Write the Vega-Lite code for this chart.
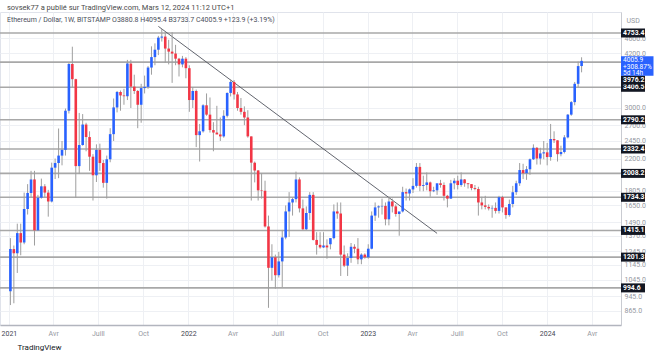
{
"$schema": "https://vega.github.io/schema/vega-lite/v6.json",
"width": 621, "height": 313,
"autosize": {"type": "none"},
"padding": {"left": 0, "top": 12, "right": 39, "bottom": 30},
"background": "#ffffff",
"title": {"text": "sovsek77 a publié sur TradingView.com, Mars 12, 2024 11:12 UTC+1", "subtitle": "Ethereum / Dollar, 1W, BITSTAMP  O3880.8  H4095.4  B3733.7  C4005.9  +123.9 (+3.19%)", "anchor": "start", "frame": "group", "dx": 7, "offset": -11, "fontSize": 7.5, "fontWeight": "normal", "color": "#4a4a4a", "subtitleFontSize": 7, "subtitleColor": "#4a4e5a", "subtitlePadding": 5, "font": "Roboto", "subtitleFont": "Roboto"},
"config": {"view": {"stroke": "#e0e3eb"}, "font": "Roboto"},
"datasets": {"levels": [{"p":4753.4},{"p":3976.2},{"p":3406.5},{"p":2790.2},{"p":2332.4},{"p":2008.2},{"p":1734.3},{"p":1415.1},{"p":1201.3},{"p":994.6}]},
"data": {"values": [
{"d":"2021-01-04","o":975,"h":1350,"l":895,"c":1262},
{"d":"2021-01-11","o":1262,"h":1290,"l":905,"c":1230},
{"d":"2021-01-18","o":1230,"h":1475,"l":1090,"c":1392},
{"d":"2021-01-25","o":1392,"h":1475,"l":1215,"c":1314},
{"d":"2021-02-01","o":1314,"h":1785,"l":1300,"c":1614},
{"d":"2021-02-08","o":1614,"h":1880,"l":1560,"c":1781},
{"d":"2021-02-15","o":1781,"h":2040,"l":1730,"c":1935},
{"d":"2021-02-22","o":1935,"h":2040,"l":1290,"c":1416},
{"d":"2021-03-01","o":1416,"h":1760,"l":1410,"c":1730},
{"d":"2021-03-08","o":1730,"h":1945,"l":1720,"c":1855},
{"d":"2021-03-15","o":1855,"h":1880,"l":1730,"c":1785},
{"d":"2021-03-22","o":1785,"h":1815,"l":1540,"c":1690},
{"d":"2021-03-29","o":1690,"h":2145,"l":1680,"c":2080},
{"d":"2021-04-05","o":2080,"h":2200,"l":1940,"c":2140},
{"d":"2021-04-12","o":2140,"h":2645,"l":1950,"c":2240},
{"d":"2021-04-19","o":2240,"h":2450,"l":2110,"c":2320},
{"d":"2021-04-26","o":2320,"h":2990,"l":2240,"c":2950},
{"d":"2021-05-03","o":2950,"h":3960,"l":2900,"c":3930},
{"d":"2021-05-10","o":3930,"h":4370,"l":3400,"c":3580},
{"d":"2021-05-17","o":3580,"h":3590,"l":1730,"c":2100},
{"d":"2021-05-24","o":2100,"h":2910,"l":2000,"c":2390},
{"d":"2021-05-31","o":2390,"h":2890,"l":2380,"c":2710},
{"d":"2021-06-07","o":2710,"h":2740,"l":2300,"c":2510},
{"d":"2021-06-14","o":2510,"h":2600,"l":2040,"c":2225},
{"d":"2021-06-21","o":2225,"h":2260,"l":1700,"c":1985},
{"d":"2021-06-28","o":1985,"h":2400,"l":1905,"c":2320},
{"d":"2021-07-05","o":2320,"h":2410,"l":2040,"c":2140},
{"d":"2021-07-12","o":2140,"h":2180,"l":1840,"c":1895},
{"d":"2021-07-19","o":1895,"h":2240,"l":1720,"c":2190},
{"d":"2021-07-26","o":2190,"h":2650,"l":2150,"c":2555},
{"d":"2021-08-02","o":2555,"h":3180,"l":2450,"c":3010},
{"d":"2021-08-09","o":3010,"h":3330,"l":2920,"c":3310},
{"d":"2021-08-16","o":3310,"h":3340,"l":2950,"c":3240},
{"d":"2021-08-23","o":3240,"h":3375,"l":3060,"c":3225},
{"d":"2021-08-30","o":3225,"h":4030,"l":3150,"c":3940},
{"d":"2021-09-06","o":3940,"h":4030,"l":3000,"c":3420},
{"d":"2021-09-13","o":3420,"h":3680,"l":3270,"c":3330},
{"d":"2021-09-20","o":3330,"h":3350,"l":2650,"c":3060},
{"d":"2021-09-27","o":3060,"h":3480,"l":2740,"c":3390},
{"d":"2021-10-04","o":3390,"h":3660,"l":3280,"c":3415},
{"d":"2021-10-11","o":3415,"h":3880,"l":3375,"c":3845},
{"d":"2021-10-18","o":3845,"h":4380,"l":3680,"c":4100},
{"d":"2021-10-25","o":4100,"h":4460,"l":3900,"c":4290},
{"d":"2021-11-01","o":4290,"h":4670,"l":4150,"c":4620},
{"d":"2021-11-08","o":4620,"h":4870,"l":4510,"c":4650},
{"d":"2021-11-15","o":4650,"h":4780,"l":3960,"c":4320},
{"d":"2021-11-22","o":4320,"h":4560,"l":3920,"c":4240},
{"d":"2021-11-29","o":4240,"h":4780,"l":3500,"c":4190},
{"d":"2021-12-06","o":4190,"h":4420,"l":3900,"c":4060},
{"d":"2021-12-13","o":4060,"h":4080,"l":3640,"c":3920},
{"d":"2021-12-20","o":3920,"h":4130,"l":3850,"c":4060},
{"d":"2021-12-27","o":4060,"h":4100,"l":3600,"c":3830},
{"d":"2022-01-03","o":3830,"h":3900,"l":2930,"c":3150},
{"d":"2022-01-10","o":3150,"h":3410,"l":3000,"c":3330},
{"d":"2022-01-17","o":3330,"h":3360,"l":2360,"c":2540},
{"d":"2022-01-24","o":2540,"h":2720,"l":2160,"c":2600},
{"d":"2022-01-31","o":2600,"h":3070,"l":2580,"c":3050},
{"d":"2022-02-07","o":3050,"h":3280,"l":2860,"c":2880},
{"d":"2022-02-14","o":2880,"h":3200,"l":2580,"c":2620},
{"d":"2022-02-21","o":2620,"h":2750,"l":2300,"c":2580},
{"d":"2022-02-28","o":2580,"h":3040,"l":2560,"c":2550},
{"d":"2022-03-07","o":2550,"h":2830,"l":2450,"c":2520},
{"d":"2022-03-14","o":2520,"h":2960,"l":2500,"c":2860},
{"d":"2022-03-21","o":2860,"h":3300,"l":2830,"c":3290},
{"d":"2022-03-28","o":3290,"h":3580,"l":3220,"c":3520},
{"d":"2022-04-04","o":3520,"h":3560,"l":3160,"c":3260},
{"d":"2022-04-11","o":3260,"h":3310,"l":2950,"c":3000},
{"d":"2022-04-18","o":3000,"h":3190,"l":2880,"c":2930},
{"d":"2022-04-25","o":2930,"h":3030,"l":2700,"c":2830},
{"d":"2022-05-02","o":2830,"h":2960,"l":2500,"c":2520},
{"d":"2022-05-09","o":2520,"h":2520,"l":1700,"c":2145},
{"d":"2022-05-16","o":2145,"h":2160,"l":1900,"c":2045},
{"d":"2022-05-23","o":2045,"h":2050,"l":1700,"c":1810},
{"d":"2022-05-30","o":1810,"h":2010,"l":1720,"c":1805},
{"d":"2022-06-06","o":1805,"h":1920,"l":1440,"c":1450},
{"d":"2022-06-13","o":1450,"h":1550,"l":880,"c":1125},
{"d":"2022-06-20","o":1125,"h":1300,"l":1040,"c":1200},
{"d":"2022-06-27","o":1200,"h":1220,"l":990,"c":1075},
{"d":"2022-07-04","o":1075,"h":1240,"l":1060,"c":1170},
{"d":"2022-07-11","o":1170,"h":1420,"l":1000,"c":1355},
{"d":"2022-07-18","o":1355,"h":1650,"l":1340,"c":1590},
{"d":"2022-07-25","o":1590,"h":1790,"l":1360,"c":1680},
{"d":"2022-08-01","o":1680,"h":1730,"l":1550,"c":1715},
{"d":"2022-08-08","o":1715,"h":2030,"l":1680,"c":1935},
{"d":"2022-08-15","o":1935,"h":1960,"l":1580,"c":1620},
{"d":"2022-08-22","o":1620,"h":1710,"l":1420,"c":1425},
{"d":"2022-08-29","o":1425,"h":1640,"l":1420,"c":1575},
{"d":"2022-09-05","o":1575,"h":1790,"l":1510,"c":1760},
{"d":"2022-09-12","o":1760,"h":1790,"l":1330,"c":1335},
{"d":"2022-09-19","o":1335,"h":1400,"l":1220,"c":1295},
{"d":"2022-09-26","o":1295,"h":1400,"l":1265,"c":1275},
{"d":"2022-10-03","o":1275,"h":1400,"l":1270,"c":1290},
{"d":"2022-10-10","o":1290,"h":1340,"l":1190,"c":1275},
{"d":"2022-10-17","o":1300,"h":1340,"l":1260,"c":1350},
{"d":"2022-10-24","o":1350,"h":1660,"l":1340,"c":1590},
{"d":"2022-10-31","o":1590,"h":1680,"l":1520,"c":1570},
{"d":"2022-11-07","o":1570,"h":1680,"l":1070,"c":1220},
{"d":"2022-11-14","o":1220,"h":1290,"l":1130,"c":1140},
{"d":"2022-11-21","o":1140,"h":1230,"l":1070,"c":1195},
{"d":"2022-11-28","o":1195,"h":1310,"l":1160,"c":1280},
{"d":"2022-12-05","o":1280,"h":1300,"l":1230,"c":1265},
{"d":"2022-12-12","o":1265,"h":1350,"l":1150,"c":1185},
{"d":"2022-12-19","o":1185,"h":1230,"l":1150,"c":1220},
{"d":"2022-12-26","o":1220,"h":1230,"l":1190,"c":1200},
{"d":"2023-01-02","o":1200,"h":1300,"l":1190,"c":1265},
{"d":"2023-01-09","o":1265,"h":1590,"l":1260,"c":1550},
{"d":"2023-01-16","o":1550,"h":1680,"l":1500,"c":1630},
{"d":"2023-01-23","o":1630,"h":1650,"l":1530,"c":1640},
{"d":"2023-01-30","o":1640,"h":1720,"l":1560,"c":1645},
{"d":"2023-02-06","o":1645,"h":1680,"l":1460,"c":1515},
{"d":"2023-02-13","o":1515,"h":1740,"l":1460,"c":1690},
{"d":"2023-02-20","o":1690,"h":1720,"l":1580,"c":1640},
{"d":"2023-02-27","o":1640,"h":1660,"l":1540,"c":1565},
{"d":"2023-03-06","o":1565,"h":1570,"l":1370,"c":1590},
{"d":"2023-03-13","o":1590,"h":1850,"l":1580,"c":1790},
{"d":"2023-03-20","o":1790,"h":1830,"l":1700,"c":1775},
{"d":"2023-03-27","o":1775,"h":1830,"l":1700,"c":1820},
{"d":"2023-04-03","o":1820,"h":1950,"l":1780,"c":1860},
{"d":"2023-04-10","o":1860,"h":2140,"l":1840,"c":2090},
{"d":"2023-04-17","o":2090,"h":2140,"l":1800,"c":1860},
{"d":"2023-04-24","o":1860,"h":1980,"l":1800,"c":1870},
{"d":"2023-05-01","o":1870,"h":2020,"l":1810,"c":1900},
{"d":"2023-05-08","o":1900,"h":1910,"l":1740,"c":1800},
{"d":"2023-05-15","o":1800,"h":1850,"l":1790,"c":1810},
{"d":"2023-05-22","o":1810,"h":1880,"l":1760,"c":1890},
{"d":"2023-05-29","o":1890,"h":1930,"l":1840,"c":1870},
{"d":"2023-06-05","o":1870,"h":1900,"l":1700,"c":1750},
{"d":"2023-06-12","o":1750,"h":1760,"l":1630,"c":1720},
{"d":"2023-06-19","o":1720,"h":1930,"l":1720,"c":1890},
{"d":"2023-06-26","o":1890,"h":1950,"l":1820,"c":1920},
{"d":"2023-07-03","o":1920,"h":1980,"l":1820,"c":1870},
{"d":"2023-07-10","o":1870,"h":2020,"l":1850,"c":1935},
{"d":"2023-07-17","o":1935,"h":1940,"l":1850,"c":1890},
{"d":"2023-07-24","o":1890,"h":1890,"l":1830,"c":1880},
{"d":"2023-07-31","o":1880,"h":1880,"l":1810,"c":1835},
{"d":"2023-08-07","o":1835,"h":1870,"l":1810,"c":1825},
{"d":"2023-08-14","o":1825,"h":1850,"l":1550,"c":1680},
{"d":"2023-08-21","o":1680,"h":1740,"l":1610,"c":1650},
{"d":"2023-08-28","o":1650,"h":1750,"l":1610,"c":1635},
{"d":"2023-09-04","o":1635,"h":1660,"l":1600,"c":1620},
{"d":"2023-09-11","o":1620,"h":1650,"l":1530,"c":1625},
{"d":"2023-09-18","o":1625,"h":1680,"l":1570,"c":1595},
{"d":"2023-09-25","o":1595,"h":1750,"l":1570,"c":1735},
{"d":"2023-10-02","o":1735,"h":1750,"l":1580,"c":1630},
{"d":"2023-10-09","o":1630,"h":1630,"l":1520,"c":1555},
{"d":"2023-10-16","o":1555,"h":1710,"l":1540,"c":1665},
{"d":"2023-10-23","o":1665,"h":1860,"l":1630,"c":1790},
{"d":"2023-10-30","o":1790,"h":1920,"l":1760,"c":1890},
{"d":"2023-11-06","o":1890,"h":2140,"l":1860,"c":2050},
{"d":"2023-11-13","o":2050,"h":2130,"l":1940,"c":2010},
{"d":"2023-11-20","o":2010,"h":2100,"l":1930,"c":2060},
{"d":"2023-11-27","o":2060,"h":2200,"l":1990,"c":2190},
{"d":"2023-12-04","o":2190,"h":2400,"l":2180,"c":2350},
{"d":"2023-12-11","o":2350,"h":2360,"l":2120,"c":2200},
{"d":"2023-12-18","o":2200,"h":2350,"l":2120,"c":2270},
{"d":"2023-12-25","o":2270,"h":2450,"l":2190,"c":2285},
{"d":"2024-01-01","o":2285,"h":2420,"l":2110,"c":2220},
{"d":"2024-01-08","o":2220,"h":2720,"l":2170,"c":2480},
{"d":"2024-01-15","o":2480,"h":2600,"l":2420,"c":2460},
{"d":"2024-01-22","o":2460,"h":2460,"l":2160,"c":2260},
{"d":"2024-01-29","o":2260,"h":2380,"l":2230,"c":2290},
{"d":"2024-02-05","o":2290,"h":2540,"l":2270,"c":2505},
{"d":"2024-02-12","o":2505,"h":2890,"l":2490,"c":2880},
{"d":"2024-02-19","o":2880,"h":3130,"l":2860,"c":3110},
{"d":"2024-02-26","o":3110,"h":3520,"l":3050,"c":3480},
{"d":"2024-03-04","o":3480,"h":3990,"l":3400,"c":3880},
{"d":"2024-03-11","o":3880.8,"h":4095.4,"l":3733.7,"c":4005.9}
]},
"layer": [
{"data": {"name": "levels"}, "mark": {"type": "rule", "color": "#a8a8a8", "strokeWidth": 1.6},
 "encoding": {"y": {"field": "p", "type": "quantitative", "title": "USD", "scale": {"type": "log", "domain": [792, 5407], "nice": false, "zero": false}}}},
{"data": {"values": [{"d": "2021-11-01", "p": 4950}, {"d": "2023-05-22", "p": 1390}]}, "mark": {"type": "line", "color": "#50535e", "strokeWidth": 0.9},
 "encoding": {"x": {"field": "d", "type": "temporal", "title": "TradingView", "scale": {"type": "utc", "domain": [{"year": 2020, "month": 12, "date": 24, "utc": true}, {"year": 2024, "month": 5, "date": 20, "utc": true}]}},
  "y": {"field": "p", "type": "quantitative", "title": "USD", "scale": {"type": "log", "domain": [792, 5407], "nice": false, "zero": false}}}},
{"mark": {"type": "rule", "color": "#9e9e9e", "strokeWidth": 1},
 "encoding": {
  "x": {"field": "d", "type": "temporal", "title": "TradingView", "scale": {"type": "utc", "domain": [{"year": 2020, "month": 12, "date": 24, "utc": true}, {"year": 2024, "month": 5, "date": 20, "utc": true}]},
   "axis": {"values": [{"year":2021,"month":1,"date":1,"utc":true},{"year":2021,"month":4,"date":1,"utc":true},{"year":2021,"month":7,"date":1,"utc":true},{"year":2021,"month":10,"date":1,"utc":true},{"year":2022,"month":1,"date":1,"utc":true},{"year":2022,"month":4,"date":1,"utc":true},{"year":2022,"month":7,"date":1,"utc":true},{"year":2022,"month":10,"date":1,"utc":true},{"year":2023,"month":1,"date":1,"utc":true},{"year":2023,"month":4,"date":1,"utc":true},{"year":2023,"month":7,"date":1,"utc":true},{"year":2023,"month":10,"date":1,"utc":true},{"year":2024,"month":1,"date":1,"utc":true},{"year":2024,"month":4,"date":1,"utc":true}],
    "labelExpr": "utcmonth(datum.value)==0 ? utcFormat(datum.value,'%Y') : utcmonth(datum.value)==3 ? 'Avr' : utcmonth(datum.value)==6 ? 'Juill' : 'Oct'",
    "labelFlush": false, "labelOverlap": false, "grid": true, "gridColor": "#eef0f4", "ticks": false, "labelPadding": 4, "labelFontSize": 7,
    "labelColor": {"condition": {"test": "utcmonth(datum.value)==0", "value": "#434651"}, "value": "#9598a1"},
    "domainColor": "#b2b5be", "domainWidth": 1.5,
    "titleX": 17, "titleY": 22, "titleAlign": "left", "titleAnchor": "start", "titleBaseline": "middle", "titleFontSize": 8, "titleFontWeight": "normal", "titleColor": "#131722"}},
  "y": {"field": "l", "type": "quantitative", "title": "USD", "scale": {"type": "log", "domain": [792, 5407], "nice": false, "zero": false},
   "axis": {"orient": "right", "values": [865, 945, 1045, 1145, 1245, 1370, 1490, 1650, 1805, 2200, 2450, 2700, 3000, 4200, 4600], "format": ".1f", "grid": true, "gridColor": "#eef0f4", "ticks": false, "labelPadding": 3, "labelFontSize": 7, "labelColor": "#9598a1", "labelOverlap": false, "labelBaseline": "middle", "domainColor": "#c9cbd1",
    "titleAngle": 0, "titleX": 5, "titleY": 8, "titleAlign": "left", "titleBaseline": "middle", "titleFontSize": 7, "titleFontWeight": "normal", "titleColor": "#9598a1"}},
  "y2": {"field": "h"}}},
{"mark": {"type": "bar", "width": 2.6},
 "encoding": {
  "x": {"field": "d", "type": "temporal", "title": "TradingView", "scale": {"type": "utc", "domain": [{"year": 2020, "month": 12, "date": 24, "utc": true}, {"year": 2024, "month": 5, "date": 20, "utc": true}]}},
  "y": {"field": "o", "type": "quantitative", "title": "USD", "scale": {"type": "log", "domain": [792, 5407], "nice": false, "zero": false}},
  "y2": {"field": "c"},
  "color": {"condition": {"test": "datum.o <= datum.c", "value": "#2962ff"}, "value": "#f23645"}}},
{"data": {"name": "levels"}, "transform": [{"filter": "datum.p != 3976.2"}],
 "mark": {"type": "point", "shape": "M0,-0.45H2.4V0.45H0Z", "size": 400, "filled": true, "opacity": 1, "strokeWidth": 0, "color": "#131722"},
 "encoding": {"x": {"value": "width"}, "y": {"field": "p", "type": "quantitative", "title": "USD", "scale": {"type": "log", "domain": [792, 5407], "nice": false, "zero": false}}}},
{"data": {"name": "levels"}, "transform": [{"filter": "datum.p != 3976.2"}],
 "mark": {"type": "text", "align": "left", "baseline": "middle", "dx": 2, "fontSize": 6.8, "fontWeight": "bold", "color": "#ffffff"},
 "encoding": {"x": {"value": "width"}, "y": {"field": "p", "type": "quantitative", "title": "USD", "scale": {"type": "log", "domain": [792, 5407], "nice": false, "zero": false}}, "text": {"field": "p", "format": ".1f"}}},
{"data": {"name": "levels"}, "transform": [{"filter": "datum.p == 3976.2"}],
 "mark": {"type": "point", "shape": "M0,-0.45H2.4V0.45H0Z", "size": 400, "filled": true, "opacity": 1, "strokeWidth": 0, "color": "#131722", "yOffset": 18},
 "encoding": {"x": {"value": "width"}, "y": {"field": "p", "type": "quantitative", "title": "USD", "scale": {"type": "log", "domain": [792, 5407], "nice": false, "zero": false}}}},
{"data": {"name": "levels"}, "transform": [{"filter": "datum.p == 3976.2"}],
 "mark": {"type": "text", "align": "left", "baseline": "middle", "dx": 2, "fontSize": 6.8, "fontWeight": "bold", "color": "#ffffff", "yOffset": 18},
 "encoding": {"x": {"value": "width"}, "y": {"field": "p", "type": "quantitative", "title": "USD", "scale": {"type": "log", "domain": [792, 5407], "nice": false, "zero": false}}, "text": {"field": "p", "format": ".1f"}}},
{"data": {"values": [{"p": 4005.9, "t": "4005.9\n+308.87%\n5d 14h"}]},
 "mark": {"type": "point", "shape": "M0,-0.45H3.25V1.5H0Z", "size": 400, "filled": true, "opacity": 1, "strokeWidth": 0, "color": "#2962ff"},
 "encoding": {"x": {"value": "width"}, "y": {"field": "p", "type": "quantitative", "title": "USD", "scale": {"type": "log", "domain": [792, 5407], "nice": false, "zero": false}}}},
{"data": {"values": [{"p": 4005.9, "t": "4005.9\n+308.87%\n5d 14h"}]},
 "mark": {"type": "text", "align": "left", "baseline": "top", "dx": 2, "dy": -3.6, "lineBreak": "\n", "lineHeight": 6.4, "fontSize": 6.6, "color": "#ffffff"},
 "encoding": {"x": {"value": "width"}, "y": {"field": "p", "type": "quantitative", "title": "USD", "scale": {"type": "log", "domain": [792, 5407], "nice": false, "zero": false}}, "text": {"field": "t"}}}
]
}
